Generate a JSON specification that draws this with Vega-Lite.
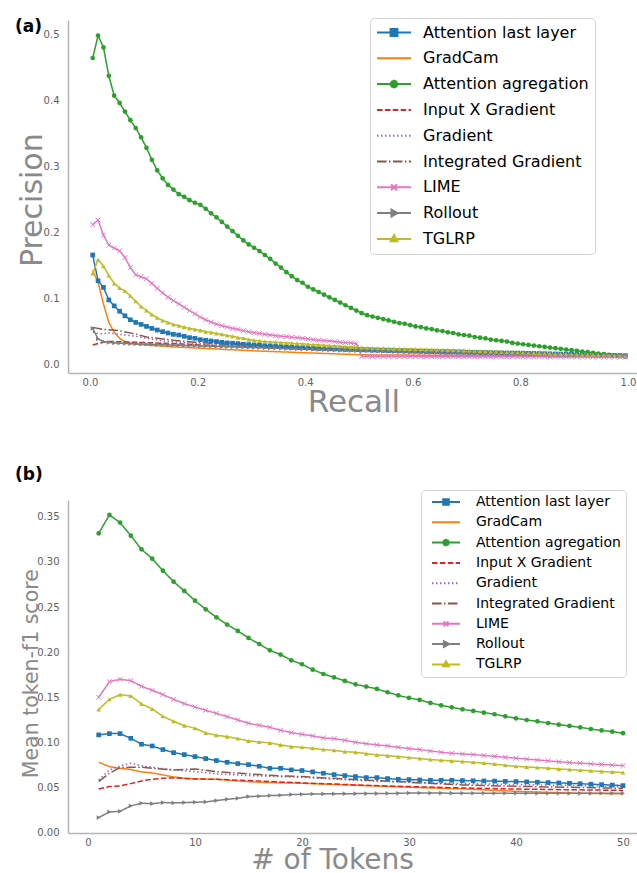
{
"$schema": "https://vega.github.io/schema/vega-lite/v6.json",
"padding": {"left": 15, "top": 17, "right": 0, "bottom": 0},
"autosize": {"type": "pad"},
"spacing": 47,
"config": {
  "view": {"stroke": null},
  "font": "DejaVu Sans",
  "axis": {"grid": false, "ticks": false, "tickSize": 0, "domainColor": "#b5b5b5", "domainWidth": 1.5, "labelColor": "#606060", "labelFontSize": 10, "labelFont": "DejaVu Sans", "titleColor": "#8a8a8a", "titleFontWeight": "normal", "titleFont": "DejaVu Sans", "labelFlush": false},
  "legend": {"labelFont": "DejaVu Sans", "labelColor": "#000000", "fillColor": "white", "strokeColor": "#d5d5d5", "cornerRadius": 4, "symbolStrokeWidth": 2, "labelLimit": 400},
  "title": {"font": "DejaVu Sans", "color": "#000000", "fontWeight": "bold", "fontSize": 17, "anchor": "start", "frame": "group"}
},
"datasets": {
"methods": [
{"m":"A","method":"Attention last layer"},{"m":"B","method":"GradCam"},{"m":"C","method":"Attention agregation"},{"m":"D","method":"Input X Gradient"},{"m":"E","method":"Gradient"},{"m":"F","method":"Integrated Gradient"},{"m":"G","method":"LIME"},{"m":"H","method":"Rollout"},{"m":"I","method":"TGLRP"}
],
"pr": [
{"m":"A","x":0.005,"y":0.166},{"m":"A","x":0.015,"y":0.127},{"m":"A","x":0.025,"y":0.117},{"m":"A","x":0.035,"y":0.098},{"m":"A","x":0.045,"y":0.089},{"m":"A","x":0.055,"y":0.081},{"m":"A","x":0.065,"y":0.074},{"m":"A","x":0.075,"y":0.068},{"m":"A","x":0.085,"y":0.064},{"m":"A","x":0.095,"y":0.061},
{"m":"A","x":0.105,"y":0.058},{"m":"A","x":0.115,"y":0.055},{"m":"A","x":0.125,"y":0.0525},{"m":"A","x":0.135,"y":0.05},{"m":"A","x":0.145,"y":0.048},{"m":"A","x":0.155,"y":0.046},{"m":"A","x":0.165,"y":0.045},{"m":"A","x":0.175,"y":0.043},{"m":"A","x":0.185,"y":0.041},{"m":"A","x":0.195,"y":0.04},
{"m":"A","x":0.205,"y":0.038},{"m":"A","x":0.215,"y":0.037},{"m":"A","x":0.225,"y":0.036},{"m":"A","x":0.235,"y":0.035},{"m":"A","x":0.245,"y":0.034},{"m":"A","x":0.255,"y":0.033},{"m":"A","x":0.265,"y":0.0325},{"m":"A","x":0.275,"y":0.032},{"m":"A","x":0.285,"y":0.031},{"m":"A","x":0.295,"y":0.0305},
{"m":"A","x":0.305,"y":0.03},{"m":"A","x":0.315,"y":0.0295},{"m":"A","x":0.325,"y":0.029},{"m":"A","x":0.335,"y":0.0285},{"m":"A","x":0.345,"y":0.028},{"m":"A","x":0.355,"y":0.0275},{"m":"A","x":0.365,"y":0.027},{"m":"A","x":0.375,"y":0.0265},{"m":"A","x":0.385,"y":0.026},{"m":"A","x":0.395,"y":0.0258},
{"m":"A","x":0.405,"y":0.0255},{"m":"A","x":0.415,"y":0.025},{"m":"A","x":0.425,"y":0.0247},{"m":"A","x":0.435,"y":0.0244},{"m":"A","x":0.445,"y":0.024},{"m":"A","x":0.455,"y":0.0238},{"m":"A","x":0.465,"y":0.0235},{"m":"A","x":0.475,"y":0.0232},{"m":"A","x":0.485,"y":0.023},{"m":"A","x":0.495,"y":0.0228},
{"m":"A","x":0.505,"y":0.0225},{"m":"A","x":0.515,"y":0.0223},{"m":"A","x":0.525,"y":0.022},{"m":"A","x":0.535,"y":0.0218},{"m":"A","x":0.545,"y":0.0216},{"m":"A","x":0.555,"y":0.0214},{"m":"A","x":0.565,"y":0.0212},{"m":"A","x":0.575,"y":0.021},{"m":"A","x":0.585,"y":0.0208},{"m":"A","x":0.595,"y":0.0206},
{"m":"A","x":0.605,"y":0.0204},{"m":"A","x":0.615,"y":0.0202},{"m":"A","x":0.625,"y":0.02},{"m":"A","x":0.635,"y":0.0199},{"m":"A","x":0.645,"y":0.0197},{"m":"A","x":0.655,"y":0.0195},{"m":"A","x":0.665,"y":0.0193},{"m":"A","x":0.675,"y":0.0192},{"m":"A","x":0.685,"y":0.019},{"m":"A","x":0.695,"y":0.0189},
{"m":"A","x":0.705,"y":0.0187},{"m":"A","x":0.715,"y":0.0186},{"m":"A","x":0.725,"y":0.0184},{"m":"A","x":0.735,"y":0.0183},{"m":"A","x":0.745,"y":0.0182},{"m":"A","x":0.755,"y":0.018},{"m":"A","x":0.765,"y":0.0179},{"m":"A","x":0.775,"y":0.0178},{"m":"A","x":0.785,"y":0.0177},{"m":"A","x":0.795,"y":0.0176},
{"m":"A","x":0.805,"y":0.0175},{"m":"A","x":0.815,"y":0.0173},{"m":"A","x":0.825,"y":0.0171},{"m":"A","x":0.835,"y":0.0169},{"m":"A","x":0.845,"y":0.0167},{"m":"A","x":0.855,"y":0.0165},{"m":"A","x":0.865,"y":0.0163},{"m":"A","x":0.875,"y":0.0161},{"m":"A","x":0.885,"y":0.0159},{"m":"A","x":0.895,"y":0.0157},
{"m":"A","x":0.905,"y":0.0155},{"m":"A","x":0.915,"y":0.0153},{"m":"A","x":0.925,"y":0.0151},{"m":"A","x":0.935,"y":0.0149},{"m":"A","x":0.945,"y":0.0147},{"m":"A","x":0.955,"y":0.0145},{"m":"A","x":0.965,"y":0.0143},{"m":"A","x":0.975,"y":0.0141},{"m":"A","x":0.985,"y":0.0139},{"m":"A","x":0.995,"y":0.0137},
{"m":"B","x":0.005,"y":0.143},{"m":"B","x":0.015,"y":0.1245},{"m":"B","x":0.025,"y":0.092},{"m":"B","x":0.035,"y":0.064},{"m":"B","x":0.045,"y":0.049},{"m":"B","x":0.055,"y":0.04},{"m":"B","x":0.065,"y":0.035},{"m":"B","x":0.075,"y":0.033},{"m":"B","x":0.085,"y":0.031},{"m":"B","x":0.105,"y":0.0298},{"m":"B","x":0.155,"y":0.027},{"m":"B","x":0.205,"y":0.025},{"m":"B","x":0.255,"y":0.023},{"m":"B","x":0.305,"y":0.021},{"m":"B","x":0.355,"y":0.0195},{"m":"B","x":0.405,"y":0.018},{"m":"B","x":0.455,"y":0.0165},{"m":"B","x":0.505,"y":0.015},{"m":"B","x":0.605,"y":0.0145},{"m":"B","x":0.705,"y":0.014},{"m":"B","x":0.805,"y":0.0135},{"m":"B","x":0.905,"y":0.013},{"m":"B","x":0.995,"y":0.0125},
{"m":"C","x":0.005,"y":0.464},{"m":"C","x":0.015,"y":0.498},{"m":"C","x":0.025,"y":0.48},{"m":"C","x":0.035,"y":0.437},{"m":"C","x":0.045,"y":0.407},{"m":"C","x":0.055,"y":0.396},{"m":"C","x":0.065,"y":0.383},{"m":"C","x":0.075,"y":0.37},{"m":"C","x":0.085,"y":0.358},{"m":"C","x":0.095,"y":0.344},
{"m":"C","x":0.105,"y":0.328},{"m":"C","x":0.115,"y":0.31},{"m":"C","x":0.125,"y":0.294},{"m":"C","x":0.135,"y":0.282},{"m":"C","x":0.145,"y":0.272},{"m":"C","x":0.155,"y":0.265},{"m":"C","x":0.165,"y":0.258},{"m":"C","x":0.175,"y":0.254},{"m":"C","x":0.185,"y":0.249},{"m":"C","x":0.195,"y":0.245},
{"m":"C","x":0.205,"y":0.242},{"m":"C","x":0.215,"y":0.236},{"m":"C","x":0.225,"y":0.229},{"m":"C","x":0.235,"y":0.223},{"m":"C","x":0.245,"y":0.216},{"m":"C","x":0.255,"y":0.209},{"m":"C","x":0.265,"y":0.202},{"m":"C","x":0.275,"y":0.195},{"m":"C","x":0.285,"y":0.188},{"m":"C","x":0.295,"y":0.182},
{"m":"C","x":0.305,"y":0.177},{"m":"C","x":0.315,"y":0.172},{"m":"C","x":0.325,"y":0.166},{"m":"C","x":0.335,"y":0.16},{"m":"C","x":0.345,"y":0.153},{"m":"C","x":0.355,"y":0.147},{"m":"C","x":0.365,"y":0.14},{"m":"C","x":0.375,"y":0.134},{"m":"C","x":0.385,"y":0.128},{"m":"C","x":0.395,"y":0.124},
{"m":"C","x":0.405,"y":0.118},{"m":"C","x":0.415,"y":0.114},{"m":"C","x":0.425,"y":0.11},{"m":"C","x":0.435,"y":0.106},{"m":"C","x":0.445,"y":0.102},{"m":"C","x":0.455,"y":0.098},{"m":"C","x":0.465,"y":0.094},{"m":"C","x":0.475,"y":0.09},{"m":"C","x":0.485,"y":0.086},{"m":"C","x":0.495,"y":0.082},
{"m":"C","x":0.505,"y":0.078},{"m":"C","x":0.515,"y":0.075},{"m":"C","x":0.525,"y":0.073},{"m":"C","x":0.535,"y":0.071},{"m":"C","x":0.545,"y":0.069},{"m":"C","x":0.555,"y":0.067},{"m":"C","x":0.565,"y":0.065},{"m":"C","x":0.575,"y":0.063},{"m":"C","x":0.585,"y":0.062},{"m":"C","x":0.595,"y":0.06},
{"m":"C","x":0.605,"y":0.058},{"m":"C","x":0.615,"y":0.057},{"m":"C","x":0.625,"y":0.055},{"m":"C","x":0.635,"y":0.054},{"m":"C","x":0.645,"y":0.052},{"m":"C","x":0.655,"y":0.051},{"m":"C","x":0.665,"y":0.049},{"m":"C","x":0.675,"y":0.048},{"m":"C","x":0.685,"y":0.046},{"m":"C","x":0.695,"y":0.045},
{"m":"C","x":0.705,"y":0.044},{"m":"C","x":0.715,"y":0.042},{"m":"C","x":0.725,"y":0.041},{"m":"C","x":0.735,"y":0.04},{"m":"C","x":0.745,"y":0.038},{"m":"C","x":0.755,"y":0.037},{"m":"C","x":0.765,"y":0.036},{"m":"C","x":0.775,"y":0.035},{"m":"C","x":0.785,"y":0.033},{"m":"C","x":0.795,"y":0.032},
{"m":"C","x":0.805,"y":0.031},{"m":"C","x":0.815,"y":0.03},{"m":"C","x":0.825,"y":0.029},{"m":"C","x":0.835,"y":0.028},{"m":"C","x":0.845,"y":0.027},{"m":"C","x":0.855,"y":0.026},{"m":"C","x":0.865,"y":0.025},{"m":"C","x":0.875,"y":0.024},{"m":"C","x":0.885,"y":0.023},{"m":"C","x":0.895,"y":0.022},
{"m":"C","x":0.905,"y":0.021},{"m":"C","x":0.915,"y":0.02},{"m":"C","x":0.925,"y":0.019},{"m":"C","x":0.935,"y":0.018},{"m":"C","x":0.945,"y":0.017},{"m":"C","x":0.955,"y":0.016},{"m":"C","x":0.965,"y":0.015},{"m":"C","x":0.975,"y":0.014},{"m":"C","x":0.985,"y":0.013},{"m":"C","x":0.995,"y":0.012},
{"m":"D","x":0.005,"y":0.03},{"m":"D","x":0.015,"y":0.032},{"m":"D","x":0.025,"y":0.034},{"m":"D","x":0.035,"y":0.035},{"m":"D","x":0.045,"y":0.035},{"m":"D","x":0.065,"y":0.0345},{"m":"D","x":0.085,"y":0.034},{"m":"D","x":0.105,"y":0.0335},{"m":"D","x":0.155,"y":0.032},{"m":"D","x":0.205,"y":0.03},{"m":"D","x":0.255,"y":0.028},{"m":"D","x":0.305,"y":0.027},{"m":"D","x":0.405,"y":0.0245},{"m":"D","x":0.505,"y":0.022},{"m":"D","x":0.605,"y":0.02},{"m":"D","x":0.705,"y":0.018},{"m":"D","x":0.805,"y":0.0165},{"m":"D","x":0.905,"y":0.0155},{"m":"D","x":0.995,"y":0.0145},
{"m":"E","x":0.005,"y":0.05},{"m":"E","x":0.015,"y":0.047},{"m":"E","x":0.025,"y":0.047},{"m":"E","x":0.035,"y":0.048},{"m":"E","x":0.045,"y":0.047},{"m":"E","x":0.065,"y":0.045},{"m":"E","x":0.085,"y":0.043},{"m":"E","x":0.105,"y":0.04},{"m":"E","x":0.135,"y":0.036},{"m":"E","x":0.155,"y":0.0345},{"m":"E","x":0.185,"y":0.033},{"m":"E","x":0.205,"y":0.0315},{"m":"E","x":0.255,"y":0.029},{"m":"E","x":0.305,"y":0.027},{"m":"E","x":0.405,"y":0.024},{"m":"E","x":0.505,"y":0.021},{"m":"E","x":0.605,"y":0.0195},{"m":"E","x":0.705,"y":0.018},{"m":"E","x":0.805,"y":0.0165},{"m":"E","x":0.905,"y":0.0155},{"m":"E","x":0.995,"y":0.0145},
{"m":"F","x":0.005,"y":0.0565},{"m":"F","x":0.025,"y":0.0534},{"m":"F","x":0.035,"y":0.053},{"m":"F","x":0.055,"y":0.0514},{"m":"F","x":0.085,"y":0.0464},{"m":"F","x":0.105,"y":0.042},{"m":"F","x":0.155,"y":0.037},{"m":"F","x":0.195,"y":0.034},{"m":"F","x":0.255,"y":0.031},{"m":"F","x":0.305,"y":0.029},{"m":"F","x":0.405,"y":0.025},{"m":"F","x":0.505,"y":0.022},{"m":"F","x":0.605,"y":0.02},{"m":"F","x":0.705,"y":0.018},{"m":"F","x":0.805,"y":0.0165},{"m":"F","x":0.905,"y":0.0155},{"m":"F","x":0.995,"y":0.0145},
{"m":"G","x":0.005,"y":0.212},{"m":"G","x":0.015,"y":0.219},{"m":"G","x":0.025,"y":0.196},{"m":"G","x":0.035,"y":0.181},{"m":"G","x":0.045,"y":0.1765},{"m":"G","x":0.055,"y":0.1725},{"m":"G","x":0.065,"y":0.162},{"m":"G","x":0.075,"y":0.147},{"m":"G","x":0.085,"y":0.136},{"m":"G","x":0.095,"y":0.133},
{"m":"G","x":0.105,"y":0.13},{"m":"G","x":0.115,"y":0.123},{"m":"G","x":0.125,"y":0.1155},{"m":"G","x":0.135,"y":0.1085},{"m":"G","x":0.145,"y":0.1024},{"m":"G","x":0.155,"y":0.097},{"m":"G","x":0.165,"y":0.092},{"m":"G","x":0.175,"y":0.087},{"m":"G","x":0.185,"y":0.082},{"m":"G","x":0.195,"y":0.077},
{"m":"G","x":0.205,"y":0.072},{"m":"G","x":0.215,"y":0.068},{"m":"G","x":0.225,"y":0.0646},{"m":"G","x":0.235,"y":0.0615},{"m":"G","x":0.245,"y":0.059},{"m":"G","x":0.255,"y":0.057},{"m":"G","x":0.265,"y":0.055},{"m":"G","x":0.275,"y":0.0535},{"m":"G","x":0.285,"y":0.0514},{"m":"G","x":0.295,"y":0.05},
{"m":"G","x":0.305,"y":0.0484},{"m":"G","x":0.315,"y":0.0474},{"m":"G","x":0.325,"y":0.046},{"m":"G","x":0.335,"y":0.045},{"m":"G","x":0.345,"y":0.044},{"m":"G","x":0.355,"y":0.043},{"m":"G","x":0.365,"y":0.0425},{"m":"G","x":0.375,"y":0.0415},{"m":"G","x":0.385,"y":0.041},{"m":"G","x":0.395,"y":0.04},
{"m":"G","x":0.405,"y":0.039},{"m":"G","x":0.415,"y":0.038},{"m":"G","x":0.425,"y":0.037},{"m":"G","x":0.435,"y":0.0365},{"m":"G","x":0.445,"y":0.036},{"m":"G","x":0.455,"y":0.035},{"m":"G","x":0.465,"y":0.034},{"m":"G","x":0.475,"y":0.0335},{"m":"G","x":0.485,"y":0.033},{"m":"G","x":0.495,"y":0.032},
{"m":"G","x":0.505,"y":0.0125},{"m":"G","x":0.515,"y":0.0125},{"m":"G","x":0.525,"y":0.0125},{"m":"G","x":0.535,"y":0.0125},{"m":"G","x":0.545,"y":0.0124},{"m":"G","x":0.555,"y":0.0124},{"m":"G","x":0.565,"y":0.0124},{"m":"G","x":0.575,"y":0.0124},{"m":"G","x":0.585,"y":0.0123},{"m":"G","x":0.595,"y":0.0123},
{"m":"G","x":0.605,"y":0.0123},{"m":"G","x":0.615,"y":0.0123},{"m":"G","x":0.625,"y":0.0122},{"m":"G","x":0.635,"y":0.0122},{"m":"G","x":0.645,"y":0.0122},{"m":"G","x":0.655,"y":0.0122},{"m":"G","x":0.665,"y":0.0121},{"m":"G","x":0.675,"y":0.0121},{"m":"G","x":0.685,"y":0.0121},{"m":"G","x":0.695,"y":0.0121},
{"m":"G","x":0.705,"y":0.012},{"m":"G","x":0.715,"y":0.012},{"m":"G","x":0.725,"y":0.012},{"m":"G","x":0.735,"y":0.012},{"m":"G","x":0.745,"y":0.012},{"m":"G","x":0.755,"y":0.012},{"m":"G","x":0.765,"y":0.012},{"m":"G","x":0.775,"y":0.012},{"m":"G","x":0.785,"y":0.012},{"m":"G","x":0.795,"y":0.012},
{"m":"G","x":0.805,"y":0.0119},{"m":"G","x":0.815,"y":0.0119},{"m":"G","x":0.825,"y":0.0119},{"m":"G","x":0.835,"y":0.0119},{"m":"G","x":0.845,"y":0.0119},{"m":"G","x":0.855,"y":0.0118},{"m":"G","x":0.865,"y":0.0118},{"m":"G","x":0.875,"y":0.0118},{"m":"G","x":0.885,"y":0.0118},{"m":"G","x":0.895,"y":0.0118},
{"m":"G","x":0.905,"y":0.0117},{"m":"G","x":0.915,"y":0.0117},{"m":"G","x":0.925,"y":0.0117},{"m":"G","x":0.935,"y":0.0117},{"m":"G","x":0.945,"y":0.0117},{"m":"G","x":0.955,"y":0.0116},{"m":"G","x":0.965,"y":0.0116},{"m":"G","x":0.975,"y":0.0116},{"m":"G","x":0.985,"y":0.0116},{"m":"G","x":0.995,"y":0.0116},
{"m":"H","x":0.005,"y":0.055},{"m":"H","x":0.015,"y":0.039},{"m":"H","x":0.025,"y":0.035},{"m":"H","x":0.035,"y":0.0337},{"m":"H","x":0.045,"y":0.033},{"m":"H","x":0.055,"y":0.0326},{"m":"H","x":0.065,"y":0.0322},{"m":"H","x":0.075,"y":0.0318},{"m":"H","x":0.085,"y":0.0315},{"m":"H","x":0.095,"y":0.0312},
{"m":"H","x":0.105,"y":0.031},{"m":"H","x":0.115,"y":0.0307},{"m":"H","x":0.125,"y":0.0305},{"m":"H","x":0.135,"y":0.0302},{"m":"H","x":0.145,"y":0.03},{"m":"H","x":0.155,"y":0.0297},{"m":"H","x":0.165,"y":0.0295},{"m":"H","x":0.175,"y":0.0292},{"m":"H","x":0.185,"y":0.029},{"m":"H","x":0.195,"y":0.0287},
{"m":"H","x":0.205,"y":0.0285},{"m":"H","x":0.215,"y":0.0282},{"m":"H","x":0.225,"y":0.028},{"m":"H","x":0.235,"y":0.0277},{"m":"H","x":0.245,"y":0.0275},{"m":"H","x":0.255,"y":0.0272},{"m":"H","x":0.265,"y":0.027},{"m":"H","x":0.275,"y":0.0267},{"m":"H","x":0.285,"y":0.0265},{"m":"H","x":0.295,"y":0.0262},
{"m":"H","x":0.305,"y":0.026},{"m":"H","x":0.315,"y":0.0257},{"m":"H","x":0.325,"y":0.0255},{"m":"H","x":0.335,"y":0.0252},{"m":"H","x":0.345,"y":0.025},{"m":"H","x":0.355,"y":0.0247},{"m":"H","x":0.365,"y":0.0245},{"m":"H","x":0.375,"y":0.0242},{"m":"H","x":0.385,"y":0.024},{"m":"H","x":0.395,"y":0.0237},
{"m":"H","x":0.405,"y":0.0235},{"m":"H","x":0.415,"y":0.0232},{"m":"H","x":0.425,"y":0.023},{"m":"H","x":0.435,"y":0.0227},{"m":"H","x":0.445,"y":0.0224},{"m":"H","x":0.455,"y":0.0221},{"m":"H","x":0.465,"y":0.0218},{"m":"H","x":0.475,"y":0.0216},{"m":"H","x":0.485,"y":0.0213},{"m":"H","x":0.495,"y":0.0211},
{"m":"H","x":0.505,"y":0.021},{"m":"H","x":0.515,"y":0.0208},{"m":"H","x":0.525,"y":0.0206},{"m":"H","x":0.535,"y":0.0204},{"m":"H","x":0.545,"y":0.0202},{"m":"H","x":0.555,"y":0.02},{"m":"H","x":0.565,"y":0.0198},{"m":"H","x":0.575,"y":0.0196},{"m":"H","x":0.585,"y":0.0194},{"m":"H","x":0.595,"y":0.0192},
{"m":"H","x":0.605,"y":0.019},{"m":"H","x":0.615,"y":0.0188},{"m":"H","x":0.625,"y":0.0186},{"m":"H","x":0.635,"y":0.0185},{"m":"H","x":0.645,"y":0.0183},{"m":"H","x":0.655,"y":0.0182},{"m":"H","x":0.665,"y":0.018},{"m":"H","x":0.675,"y":0.0179},{"m":"H","x":0.685,"y":0.0177},{"m":"H","x":0.695,"y":0.0176},
{"m":"H","x":0.705,"y":0.0175},{"m":"H","x":0.715,"y":0.0173},{"m":"H","x":0.725,"y":0.0172},{"m":"H","x":0.735,"y":0.0171},{"m":"H","x":0.745,"y":0.0169},{"m":"H","x":0.755,"y":0.0168},{"m":"H","x":0.765,"y":0.0167},{"m":"H","x":0.775,"y":0.0165},{"m":"H","x":0.785,"y":0.0164},{"m":"H","x":0.795,"y":0.0162},
{"m":"H","x":0.805,"y":0.016},{"m":"H","x":0.815,"y":0.0159},{"m":"H","x":0.825,"y":0.0158},{"m":"H","x":0.835,"y":0.0156},{"m":"H","x":0.845,"y":0.0155},{"m":"H","x":0.855,"y":0.0154},{"m":"H","x":0.865,"y":0.0153},{"m":"H","x":0.875,"y":0.0152},{"m":"H","x":0.885,"y":0.0151},{"m":"H","x":0.895,"y":0.015},
{"m":"H","x":0.905,"y":0.0148},{"m":"H","x":0.915,"y":0.0147},{"m":"H","x":0.925,"y":0.0146},{"m":"H","x":0.935,"y":0.0145},{"m":"H","x":0.945,"y":0.0144},{"m":"H","x":0.955,"y":0.0142},{"m":"H","x":0.965,"y":0.0141},{"m":"H","x":0.975,"y":0.014},{"m":"H","x":0.985,"y":0.0138},{"m":"H","x":0.995,"y":0.0136},
{"m":"I","x":0.005,"y":0.138},{"m":"I","x":0.015,"y":0.159},{"m":"I","x":0.025,"y":0.149},{"m":"I","x":0.035,"y":0.135},{"m":"I","x":0.045,"y":0.123},{"m":"I","x":0.055,"y":0.116},{"m":"I","x":0.065,"y":0.1115},{"m":"I","x":0.075,"y":0.104},{"m":"I","x":0.085,"y":0.096},{"m":"I","x":0.095,"y":0.088},
{"m":"I","x":0.105,"y":0.082},{"m":"I","x":0.115,"y":0.076},{"m":"I","x":0.125,"y":0.071},{"m":"I","x":0.135,"y":0.067},{"m":"I","x":0.145,"y":0.064},{"m":"I","x":0.155,"y":0.061},{"m":"I","x":0.165,"y":0.059},{"m":"I","x":0.175,"y":0.057},{"m":"I","x":0.185,"y":0.055},{"m":"I","x":0.195,"y":0.0535},
{"m":"I","x":0.205,"y":0.052},{"m":"I","x":0.215,"y":0.05},{"m":"I","x":0.225,"y":0.049},{"m":"I","x":0.235,"y":0.0474},{"m":"I","x":0.245,"y":0.046},{"m":"I","x":0.255,"y":0.0443},{"m":"I","x":0.265,"y":0.043},{"m":"I","x":0.275,"y":0.041},{"m":"I","x":0.285,"y":0.04},{"m":"I","x":0.295,"y":0.038},
{"m":"I","x":0.305,"y":0.037},{"m":"I","x":0.315,"y":0.036},{"m":"I","x":0.325,"y":0.035},{"m":"I","x":0.335,"y":0.0345},{"m":"I","x":0.345,"y":0.034},{"m":"I","x":0.355,"y":0.0335},{"m":"I","x":0.365,"y":0.033},{"m":"I","x":0.375,"y":0.0325},{"m":"I","x":0.385,"y":0.032},{"m":"I","x":0.395,"y":0.0315},
{"m":"I","x":0.405,"y":0.031},{"m":"I","x":0.415,"y":0.0305},{"m":"I","x":0.425,"y":0.03},{"m":"I","x":0.435,"y":0.0295},{"m":"I","x":0.445,"y":0.029},{"m":"I","x":0.455,"y":0.0285},{"m":"I","x":0.465,"y":0.028},{"m":"I","x":0.475,"y":0.0275},{"m":"I","x":0.485,"y":0.027},{"m":"I","x":0.495,"y":0.0265},
{"m":"I","x":0.505,"y":0.026},{"m":"I","x":0.515,"y":0.0257},{"m":"I","x":0.525,"y":0.0254},{"m":"I","x":0.535,"y":0.0251},{"m":"I","x":0.545,"y":0.0248},{"m":"I","x":0.555,"y":0.0246},{"m":"I","x":0.565,"y":0.0244},{"m":"I","x":0.575,"y":0.0242},{"m":"I","x":0.585,"y":0.024},{"m":"I","x":0.595,"y":0.0238},
{"m":"I","x":0.605,"y":0.0236},{"m":"I","x":0.615,"y":0.0234},{"m":"I","x":0.625,"y":0.0232},{"m":"I","x":0.635,"y":0.023},{"m":"I","x":0.645,"y":0.0228},{"m":"I","x":0.655,"y":0.0226},{"m":"I","x":0.665,"y":0.0224},{"m":"I","x":0.675,"y":0.0222},{"m":"I","x":0.685,"y":0.022},{"m":"I","x":0.695,"y":0.0217},
{"m":"I","x":0.705,"y":0.0214},{"m":"I","x":0.715,"y":0.0211},{"m":"I","x":0.725,"y":0.0208},{"m":"I","x":0.735,"y":0.0205},{"m":"I","x":0.745,"y":0.0202},{"m":"I","x":0.755,"y":0.02},{"m":"I","x":0.765,"y":0.0197},{"m":"I","x":0.775,"y":0.0194},{"m":"I","x":0.785,"y":0.0191},{"m":"I","x":0.795,"y":0.0188},
{"m":"I","x":0.805,"y":0.0185},{"m":"I","x":0.815,"y":0.0182},{"m":"I","x":0.825,"y":0.0179},{"m":"I","x":0.835,"y":0.0176},{"m":"I","x":0.845,"y":0.0173},{"m":"I","x":0.855,"y":0.017},{"m":"I","x":0.865,"y":0.0167},{"m":"I","x":0.875,"y":0.0164},{"m":"I","x":0.885,"y":0.0161},{"m":"I","x":0.895,"y":0.0158},
{"m":"I","x":0.905,"y":0.0155},{"m":"I","x":0.915,"y":0.0152},{"m":"I","x":0.925,"y":0.0149},{"m":"I","x":0.935,"y":0.0146},{"m":"I","x":0.945,"y":0.0143},{"m":"I","x":0.955,"y":0.014},{"m":"I","x":0.965,"y":0.0137},{"m":"I","x":0.975,"y":0.0134},{"m":"I","x":0.985,"y":0.0131},{"m":"I","x":0.995,"y":0.0128}
],
"f1": [
{"m":"A","x":1,"y":0.1081},{"m":"A","x":2,"y":0.1095},{"m":"A","x":3,"y":0.1095},{"m":"A","x":4,"y":0.1043},{"m":"A","x":5,"y":0.0977},{"m":"A","x":6,"y":0.0958},{"m":"A","x":7,"y":0.0918},{"m":"A","x":8,"y":0.0884},{"m":"A","x":9,"y":0.0862},{"m":"A","x":10,"y":0.084},
{"m":"A","x":11,"y":0.0818},{"m":"A","x":12,"y":0.0796},{"m":"A","x":13,"y":0.0777},{"m":"A","x":14,"y":0.0762},{"m":"A","x":15,"y":0.0751},{"m":"A","x":16,"y":0.0733},{"m":"A","x":17,"y":0.071},{"m":"A","x":18,"y":0.071},{"m":"A","x":19,"y":0.0692},{"m":"A","x":20,"y":0.0685},
{"m":"A","x":21,"y":0.067},{"m":"A","x":22,"y":0.0655},{"m":"A","x":23,"y":0.064},{"m":"A","x":24,"y":0.0629},{"m":"A","x":25,"y":0.0618},{"m":"A","x":26,"y":0.0607},{"m":"A","x":27,"y":0.0607},{"m":"A","x":28,"y":0.0596},{"m":"A","x":29,"y":0.0588},{"m":"A","x":30,"y":0.0585},
{"m":"A","x":31,"y":0.0581},{"m":"A","x":32,"y":0.0577},{"m":"A","x":33,"y":0.0577},{"m":"A","x":34,"y":0.0577},{"m":"A","x":35,"y":0.0574},{"m":"A","x":36,"y":0.0572},{"m":"A","x":37,"y":0.057},{"m":"A","x":38,"y":0.0568},{"m":"A","x":39,"y":0.0565},{"m":"A","x":40,"y":0.0563},
{"m":"A","x":41,"y":0.056},{"m":"A","x":42,"y":0.0556},{"m":"A","x":43,"y":0.0552},{"m":"A","x":44,"y":0.0548},{"m":"A","x":45,"y":0.0544},{"m":"A","x":46,"y":0.0539},{"m":"A","x":47,"y":0.0534},{"m":"A","x":48,"y":0.0529},{"m":"A","x":49,"y":0.0524},{"m":"A","x":50,"y":0.0518},
{"m":"B","x":1,"y":0.0777},{"m":"B","x":2,"y":0.0729},{"m":"B","x":3,"y":0.071},{"m":"B","x":4,"y":0.0696},{"m":"B","x":5,"y":0.067},{"m":"B","x":6,"y":0.0659},{"m":"B","x":7,"y":0.0637},{"m":"B","x":8,"y":0.0614},{"m":"B","x":9,"y":0.06},{"m":"B","x":10,"y":0.0592},{"m":"B","x":12,"y":0.0588},{"m":"B","x":14,"y":0.057},{"m":"B","x":16,"y":0.0555},{"m":"B","x":20,"y":0.0544},{"m":"B","x":25,"y":0.0522},{"m":"B","x":30,"y":0.05},{"m":"B","x":35,"y":0.0481},{"m":"B","x":40,"y":0.0455},{"m":"B","x":45,"y":0.0435},{"m":"B","x":50,"y":0.0426},
{"m":"C","x":1,"y":0.3318},{"m":"C","x":2,"y":0.3522},{"m":"C","x":3,"y":0.3437},{"m":"C","x":4,"y":0.3292},{"m":"C","x":5,"y":0.314},{"m":"C","x":6,"y":0.3037},{"m":"C","x":7,"y":0.2904},{"m":"C","x":8,"y":0.2782},{"m":"C","x":9,"y":0.2679},{"m":"C","x":10,"y":0.2571},
{"m":"C","x":11,"y":0.2475},{"m":"C","x":12,"y":0.2386},{"m":"C","x":13,"y":0.2305},{"m":"C","x":14,"y":0.2235},{"m":"C","x":15,"y":0.2157},{"m":"C","x":16,"y":0.209},{"m":"C","x":17,"y":0.202},{"m":"C","x":18,"y":0.1972},{"m":"C","x":19,"y":0.1909},{"m":"C","x":20,"y":0.1865},
{"m":"C","x":21,"y":0.1805},{"m":"C","x":22,"y":0.1757},{"m":"C","x":23,"y":0.172},{"m":"C","x":24,"y":0.168},{"m":"C","x":25,"y":0.1642},{"m":"C","x":26,"y":0.1617},{"m":"C","x":27,"y":0.1591},{"m":"C","x":28,"y":0.1554},{"m":"C","x":29,"y":0.152},{"m":"C","x":30,"y":0.1491},
{"m":"C","x":31,"y":0.1469},{"m":"C","x":32,"y":0.1436},{"m":"C","x":33,"y":0.1409},{"m":"C","x":34,"y":0.1387},{"m":"C","x":35,"y":0.1365},{"m":"C","x":36,"y":0.1347},{"m":"C","x":37,"y":0.1328},{"m":"C","x":38,"y":0.131},{"m":"C","x":39,"y":0.1287},{"m":"C","x":40,"y":0.1265},
{"m":"C","x":41,"y":0.1246},{"m":"C","x":42,"y":0.1231},{"m":"C","x":43,"y":0.1213},{"m":"C","x":44,"y":0.1194},{"m":"C","x":45,"y":0.118},{"m":"C","x":46,"y":0.1165},{"m":"C","x":47,"y":0.1146},{"m":"C","x":48,"y":0.1131},{"m":"C","x":49,"y":0.1117},{"m":"C","x":50,"y":0.11},
{"m":"D","x":1,"y":0.0481},{"m":"D","x":2,"y":0.0507},{"m":"D","x":3,"y":0.0515},{"m":"D","x":4,"y":0.054},{"m":"D","x":5,"y":0.057},{"m":"D","x":6,"y":0.0588},{"m":"D","x":7,"y":0.06},{"m":"D","x":8,"y":0.0603},{"m":"D","x":10,"y":0.0592},{"m":"D","x":12,"y":0.0588},{"m":"D","x":15,"y":0.0574},{"m":"D","x":20,"y":0.0548},{"m":"D","x":25,"y":0.0526},{"m":"D","x":30,"y":0.0507},{"m":"D","x":35,"y":0.0492},{"m":"D","x":40,"y":0.048},{"m":"D","x":45,"y":0.0472},{"m":"D","x":50,"y":0.0465},
{"m":"E","x":1,"y":0.0581},{"m":"E","x":2,"y":0.0692},{"m":"E","x":3,"y":0.0737},{"m":"E","x":4,"y":0.0766},{"m":"E","x":5,"y":0.074},{"m":"E","x":6,"y":0.0722},{"m":"E","x":8,"y":0.0692},{"m":"E","x":10,"y":0.0673},{"m":"E","x":12,"y":0.0648},{"m":"E","x":15,"y":0.0629},{"m":"E","x":18,"y":0.0618},{"m":"E","x":20,"y":0.061},{"m":"E","x":25,"y":0.0577},{"m":"E","x":30,"y":0.0555},{"m":"E","x":35,"y":0.054},{"m":"E","x":40,"y":0.053},{"m":"E","x":45,"y":0.052},{"m":"E","x":50,"y":0.0505},
{"m":"F","x":1,"y":0.0563},{"m":"F","x":2,"y":0.0655},{"m":"F","x":3,"y":0.0718},{"m":"F","x":4,"y":0.0722},{"m":"F","x":5,"y":0.0722},{"m":"F","x":6,"y":0.071},{"m":"F","x":8,"y":0.0692},{"m":"F","x":10,"y":0.0703},{"m":"F","x":12,"y":0.0673},{"m":"F","x":15,"y":0.0648},{"m":"F","x":18,"y":0.0625},{"m":"F","x":20,"y":0.0618},{"m":"F","x":25,"y":0.0585},{"m":"F","x":30,"y":0.0555},{"m":"F","x":35,"y":0.0526},{"m":"F","x":40,"y":0.051},{"m":"F","x":45,"y":0.05},{"m":"F","x":50,"y":0.0488},
{"m":"G","x":1,"y":0.1498},{"m":"G","x":2,"y":0.1672},{"m":"G","x":3,"y":0.1698},{"m":"G","x":4,"y":0.1683},{"m":"G","x":5,"y":0.162},{"m":"G","x":6,"y":0.1576},{"m":"G","x":7,"y":0.1528},{"m":"G","x":8,"y":0.1476},{"m":"G","x":9,"y":0.1428},{"m":"G","x":10,"y":0.1391},
{"m":"G","x":11,"y":0.1354},{"m":"G","x":12,"y":0.132},{"m":"G","x":13,"y":0.1284},{"m":"G","x":14,"y":0.1247},{"m":"G","x":15,"y":0.121},{"m":"G","x":16,"y":0.1187},{"m":"G","x":17,"y":0.1165},{"m":"G","x":18,"y":0.1132},{"m":"G","x":19,"y":0.1106},{"m":"G","x":20,"y":0.1087},
{"m":"G","x":21,"y":0.107},{"m":"G","x":22,"y":0.1047},{"m":"G","x":23,"y":0.104},{"m":"G","x":24,"y":0.1021},{"m":"G","x":25,"y":0.0999},{"m":"G","x":26,"y":0.0984},{"m":"G","x":27,"y":0.097},{"m":"G","x":28,"y":0.0959},{"m":"G","x":29,"y":0.0943},{"m":"G","x":30,"y":0.0929},
{"m":"G","x":31,"y":0.0918},{"m":"G","x":32,"y":0.0903},{"m":"G","x":33,"y":0.0888},{"m":"G","x":34,"y":0.0877},{"m":"G","x":35,"y":0.087},{"m":"G","x":36,"y":0.0863},{"m":"G","x":37,"y":0.0853},{"m":"G","x":38,"y":0.0843},{"m":"G","x":39,"y":0.0832},{"m":"G","x":40,"y":0.0822},
{"m":"G","x":41,"y":0.0812},{"m":"G","x":42,"y":0.0803},{"m":"G","x":43,"y":0.0793},{"m":"G","x":44,"y":0.0783},{"m":"G","x":45,"y":0.0774},{"m":"G","x":46,"y":0.0767},{"m":"G","x":47,"y":0.076},{"m":"G","x":48,"y":0.0753},{"m":"G","x":49,"y":0.0746},{"m":"G","x":50,"y":0.074},
{"m":"H","x":1,"y":0.0163},{"m":"H","x":2,"y":0.0226},{"m":"H","x":3,"y":0.0233},{"m":"H","x":4,"y":0.0293},{"m":"H","x":5,"y":0.0322},{"m":"H","x":6,"y":0.0318},{"m":"H","x":7,"y":0.033},{"m":"H","x":8,"y":0.0326},{"m":"H","x":9,"y":0.033},{"m":"H","x":10,"y":0.0333},
{"m":"H","x":11,"y":0.0337},{"m":"H","x":12,"y":0.0352},{"m":"H","x":13,"y":0.0366},{"m":"H","x":14,"y":0.0377},{"m":"H","x":15,"y":0.0396},{"m":"H","x":16,"y":0.04},{"m":"H","x":17,"y":0.0407},{"m":"H","x":18,"y":0.0411},{"m":"H","x":19,"y":0.0418},{"m":"H","x":20,"y":0.0422},
{"m":"H","x":21,"y":0.0425},{"m":"H","x":22,"y":0.0426},{"m":"H","x":23,"y":0.0427},{"m":"H","x":24,"y":0.0428},{"m":"H","x":25,"y":0.0429},{"m":"H","x":26,"y":0.043},{"m":"H","x":27,"y":0.043},{"m":"H","x":28,"y":0.0431},{"m":"H","x":29,"y":0.0432},{"m":"H","x":30,"y":0.0436},
{"m":"H","x":31,"y":0.0436},{"m":"H","x":32,"y":0.0435},{"m":"H","x":33,"y":0.0435},{"m":"H","x":34,"y":0.0434},{"m":"H","x":35,"y":0.0434},{"m":"H","x":36,"y":0.0433},{"m":"H","x":37,"y":0.0433},{"m":"H","x":38,"y":0.0433},{"m":"H","x":39,"y":0.0433},{"m":"H","x":40,"y":0.0433},
{"m":"H","x":41,"y":0.0433},{"m":"H","x":42,"y":0.0432},{"m":"H","x":43,"y":0.0432},{"m":"H","x":44,"y":0.0432},{"m":"H","x":45,"y":0.0432},{"m":"H","x":46,"y":0.0432},{"m":"H","x":47,"y":0.0432},{"m":"H","x":48,"y":0.0433},{"m":"H","x":49,"y":0.0433},{"m":"H","x":50,"y":0.0433},
{"m":"I","x":1,"y":0.1362},{"m":"I","x":2,"y":0.1476},{"m":"I","x":3,"y":0.1528},{"m":"I","x":4,"y":0.1513},{"m":"I","x":5,"y":0.1425},{"m":"I","x":6,"y":0.1369},{"m":"I","x":7,"y":0.1287},{"m":"I","x":8,"y":0.1232},{"m":"I","x":9,"y":0.1184},{"m":"I","x":10,"y":0.1154},
{"m":"I","x":11,"y":0.1103},{"m":"I","x":12,"y":0.1076},{"m":"I","x":13,"y":0.1062},{"m":"I","x":14,"y":0.104},{"m":"I","x":15,"y":0.1014},{"m":"I","x":16,"y":0.1003},{"m":"I","x":17,"y":0.0992},{"m":"I","x":18,"y":0.097},{"m":"I","x":19,"y":0.0951},{"m":"I","x":20,"y":0.0943},
{"m":"I","x":21,"y":0.0932},{"m":"I","x":22,"y":0.0918},{"m":"I","x":23,"y":0.091},{"m":"I","x":24,"y":0.0895},{"m":"I","x":25,"y":0.0888},{"m":"I","x":26,"y":0.0873},{"m":"I","x":27,"y":0.0859},{"m":"I","x":28,"y":0.0851},{"m":"I","x":29,"y":0.084},{"m":"I","x":30,"y":0.0829},
{"m":"I","x":31,"y":0.0818},{"m":"I","x":32,"y":0.0807},{"m":"I","x":33,"y":0.0799},{"m":"I","x":34,"y":0.0792},{"m":"I","x":35,"y":0.0785},{"m":"I","x":36,"y":0.0777},{"m":"I","x":37,"y":0.0768},{"m":"I","x":38,"y":0.0757},{"m":"I","x":39,"y":0.0743},{"m":"I","x":40,"y":0.0732},
{"m":"I","x":41,"y":0.0725},{"m":"I","x":42,"y":0.0718},{"m":"I","x":43,"y":0.0711},{"m":"I","x":44,"y":0.0703},{"m":"I","x":45,"y":0.0696},{"m":"I","x":46,"y":0.0689},{"m":"I","x":47,"y":0.0682},{"m":"I","x":48,"y":0.0676},{"m":"I","x":49,"y":0.0669},{"m":"I","x":50,"y":0.0663}
]
},
"resolve": {"scale": {"color": "independent", "strokeDash": "independent", "shape": "independent"}, "legend": {"color": "independent", "strokeDash": "independent", "shape": "independent"}},
"vconcat": [
{
  "width": 569, "height": 353,
  "title": {"text": "(a)", "anchor": "start", "frame": "group", "baseline": "alphabetic", "offset": 0, "dx": -53, "dy": 31},
  "data": {"name": "pr"},
  "transform": [{"lookup": "m", "from": {"data": {"name": "methods"}, "key": "m", "fields": ["method"]}}],
  "encoding": {
    "x": {"field": "x", "type": "quantitative", "scale": {"domain": [-0.0409, 1.0167], "nice": false, "zero": false},
          "axis": {"title": "Recall", "values": [0, 0.2, 0.4, 0.6, 0.8, 1.0], "format": ".1f", "labelPadding": 4, "titleFontSize": 31, "titleX": 285.5, "titleY": 38.5, "titleBaseline": "alphabetic"}},
    "y": {"field": "y", "type": "quantitative", "scale": {"domain": [-0.0125, 0.5215], "nice": false, "zero": false},
          "axis": {"title": "Precision", "values": [0, 0.1, 0.2, 0.3, 0.4, 0.5], "format": ".1f", "labelPadding": 9, "titleFontSize": 30, "titleX": -26.3, "titleY": 179.7, "titleBaseline": "alphabetic"}}
  },
  "layer": [
    {"mark": {"type": "line", "strokeWidth": 1.5},
     "encoding": {
       "color": {"field": "method", "type": "nominal",
         "scale": {"domain": ["Attention last layer","GradCam","Attention agregation","Input X Gradient","Gradient","Integrated Gradient","LIME","Rollout","TGLRP"], "range": ["#1f77b4","#ff7f0e","#2ca02c","#d62728","#9467bd","#8c564b","#e377c2","#7f7f7f","#bcbd22"]},
         "legend": {"title": null, "orient": "none", "legendX": 302, "legendY": -2, "padding": 6, "symbolSize": 1156, "symbolOffset": 0, "labelOffset": 11, "rowPadding": 8.8, "clipHeight": 17, "labelFontSize": 16,
           "encode": {"symbols": {"update": {
             "shape": {"signal": "datum.value === 'Attention last layer' ? 'M-1,0H1M-0.2,-0.2H0.2V0.2H-0.2Z' : datum.value === 'Attention agregation' ? 'M-1,0H1M0.2,0L0.14,0.14L0,0.2L-0.14,0.14L-0.2,0L-0.14,-0.14L0,-0.2L0.14,-0.14Z' : datum.value === 'LIME' ? 'M-1,0H1M-0.17,-0.17L0.17,0.17M-0.17,0.17L0.17,-0.17' : datum.value === 'Rollout' ? 'M-1,0H1M-0.15,-0.2L0.22,0L-0.15,0.2Z' : datum.value === 'TGLRP' ? 'M-1,0H1M0,-0.22L0.2,0.14L-0.2,0.14Z' : 'M-1,0H1'"},
             "fill": {"signal": "datum.value === 'Attention last layer' ? '#1f77b4' : datum.value === 'Attention agregation' ? '#2ca02c' : datum.value === 'Rollout' ? '#7f7f7f' : datum.value === 'TGLRP' ? '#bcbd22' : 'transparent'"}
           }}}}},
       "strokeDash": {"field": "method", "type": "nominal",
         "scale": {"domain": ["Attention last layer","GradCam","Attention agregation","Input X Gradient","Gradient","Integrated Gradient","LIME","Rollout","TGLRP"], "range": [[1,0],[1,0],[1,0],[5.5,2.4],[1.5,2.5],[9.6,2.4,1.5,2.4],[1,0],[1,0],[1,0]]},
         "legend": {"title": null, "orient": "none", "legendX": 302, "legendY": -2, "padding": 6, "symbolSize": 1156, "symbolOffset": 0, "labelOffset": 11, "rowPadding": 8.8, "clipHeight": 17, "labelFontSize": 16}}
     }},
    {"transform": [{"filter": {"field": "m", "oneOf": ["A","C","H","I"]}}],
     "mark": {"type": "point", "filled": true, "opacity": 1},
     "encoding": {
       "color": {"field": "method", "type": "nominal", "legend": null},
       "shape": {"field": "method", "type": "nominal", "scale": {"domain": ["Attention last layer","Attention agregation","Rollout","TGLRP"], "range": ["square","circle","triangle-right","triangle-up"]}, "legend": null},
       "size": {"value": 22}
     }},
    {"transform": [{"filter": {"field": "m", "equal": "G"}}],
     "mark": {"type": "point", "shape": "M-1,-1L1,1M-1,1L1,-1", "filled": false, "stroke": "#e377c2", "strokeWidth": 1, "size": 22, "opacity": 1},
     "encoding": {}}
  ]
},
{
  "width": 569, "height": 333,
  "title": {"text": "(b)", "anchor": "start", "frame": "group", "baseline": "alphabetic", "offset": 9, "dx": -53, "dy": 16},
  "data": {"name": "f1"},
  "transform": [{"lookup": "m", "from": {"data": {"name": "methods"}, "key": "m", "fields": ["method"]}}],
  "encoding": {
    "x": {"field": "x", "type": "quantitative", "scale": {"domain": [-1.869, 51.31], "nice": false, "zero": false},
          "axis": {"title": "# of Tokens", "values": [0, 10, 20, 30, 40, 50], "labelPadding": 4, "titleFontSize": 28, "titleX": 264, "titleY": 35.5, "titleBaseline": "alphabetic"}},
    "y": {"field": "y", "type": "quantitative", "scale": {"domain": [-0.0008, 0.3688], "nice": false, "zero": false},
          "axis": {"title": "Mean token-f1 score", "values": [0, 0.05, 0.1, 0.15, 0.2, 0.25, 0.3, 0.35], "format": ".2f", "labelPadding": 9, "titleFontSize": 20.5, "titleX": -31, "titleY": 173.2, "titleBaseline": "alphabetic"}}
  },
  "layer": [
    {"mark": {"type": "line", "strokeWidth": 1.5},
     "encoding": {
       "color": {"field": "method", "type": "nominal",
         "scale": {"domain": ["Attention last layer","GradCam","Attention agregation","Input X Gradient","Gradient","Integrated Gradient","LIME","Rollout","TGLRP"], "range": ["#1f77b4","#ff7f0e","#2ca02c","#d62728","#9467bd","#8c564b","#e377c2","#7f7f7f","#bcbd22"]},
         "legend": {"title": null, "orient": "none", "legendX": 353, "legendY": -10, "padding": 5, "symbolSize": 784, "symbolOffset": 5, "labelOffset": 15, "rowPadding": 6.3, "clipHeight": 14, "labelFontSize": 14,
           "encode": {"symbols": {"update": {
             "shape": {"signal": "datum.value === 'Attention last layer' ? 'M-1,0H1M-0.2,-0.2H0.2V0.2H-0.2Z' : datum.value === 'Attention agregation' ? 'M-1,0H1M0.2,0L0.14,0.14L0,0.2L-0.14,0.14L-0.2,0L-0.14,-0.14L0,-0.2L0.14,-0.14Z' : datum.value === 'LIME' ? 'M-1,0H1M-0.17,-0.17L0.17,0.17M-0.17,0.17L0.17,-0.17' : datum.value === 'Rollout' ? 'M-1,0H1M-0.15,-0.2L0.22,0L-0.15,0.2Z' : datum.value === 'TGLRP' ? 'M-1,0H1M0,-0.22L0.2,0.14L-0.2,0.14Z' : 'M-1,0H1'"},
             "fill": {"signal": "datum.value === 'Attention last layer' ? '#1f77b4' : datum.value === 'Attention agregation' ? '#2ca02c' : datum.value === 'Rollout' ? '#7f7f7f' : datum.value === 'TGLRP' ? '#bcbd22' : 'transparent'"}
           }}}}},
       "strokeDash": {"field": "method", "type": "nominal",
         "scale": {"domain": ["Attention last layer","GradCam","Attention agregation","Input X Gradient","Gradient","Integrated Gradient","LIME","Rollout","TGLRP"], "range": [[1,0],[1,0],[1,0],[5.5,2.4],[1.5,2.5],[9.6,2.4,1.5,2.4],[1,0],[1,0],[1,0]]},
         "legend": {"title": null, "orient": "none", "legendX": 353, "legendY": -10, "padding": 5, "symbolSize": 784, "symbolOffset": 5, "labelOffset": 15, "rowPadding": 6.3, "clipHeight": 14, "labelFontSize": 14}}
     }},
    {"transform": [{"filter": {"field": "m", "oneOf": ["A","C","H","I"]}}],
     "mark": {"type": "point", "filled": true, "opacity": 1},
     "encoding": {
       "color": {"field": "method", "type": "nominal", "legend": null},
       "shape": {"field": "method", "type": "nominal", "scale": {"domain": ["Attention last layer","Attention agregation","Rollout","TGLRP"], "range": ["square","circle","triangle-right","triangle-up"]}, "legend": null},
       "size": {"value": 22}
     }},
    {"transform": [{"filter": {"field": "m", "equal": "G"}}],
     "mark": {"type": "point", "shape": "M-1,-1L1,1M-1,1L1,-1", "filled": false, "stroke": "#e377c2", "strokeWidth": 1, "size": 22, "opacity": 1},
     "encoding": {}}
  ]
}
]
}
